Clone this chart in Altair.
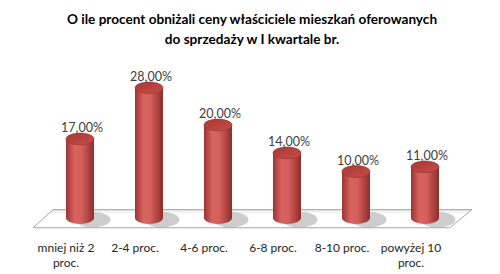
import altair as alt
import pandas as pd

categories = ["mniej niż 2\nproc.", "2-4 proc.", "4-6 proc.", "6-8 proc.", "8-10 proc.", "powyżej 10\nproc."]
values = [17.0, 28.0, 20.0, 14.0, 10.0, 11.0]
value_labels = ["17,00%", "28,00%", "20,00%", "14,00%", "10,00%", "11,00%"]
title_lines = ["O ile procent obniżali ceny właściciele mieszkań oferowanych", "do sprzedaży w I kwartale br."]

df = pd.DataFrame({
    "i": list(range(len(categories))),
    "cat": [c.split("\n") for c in categories],
    "v": values,
    "lab": value_labels,
})

# floor (3D base) corners in data units
floor = pd.DataFrame({
    "x": [-0.68, -0.39, 5.36, 5.68],
    "y": [-2.1, 1.8, 1.8, 1.8],
    "y2": [-2.1, -2.1, -2.1, 1.8],
})
floor_outline = pd.DataFrame({
    "x": [-0.68, -0.39, 5.68, 5.36, -0.68],
    "y": [-2.1, 1.8, 1.8, -2.1, -2.1],
    "o": [0, 1, 2, 3, 4],
})

xs = alt.Scale(domain=[-80 / 69, 420 / 69], nice=False, zero=False)
ys = alt.Scale(domain=[-56 / 4.65, 168 / 4.65], nice=False, zero=False)
X = alt.X("i:Q", scale=xs, axis=None)

FONT = "Lato"

ellipse = "M -1 0 A 1 0.42 0 1 0 1 0 A 1 0.42 0 1 0 -1 0 Z"

bar_grad = alt.Gradient(
    gradient="linear", x1=0, x2=1, y1=0, y2=0,
    stops=[
        alt.GradientStop(offset=0, color="#9c3431"),
        alt.GradientStop(offset=0.3, color="#d9625f"),
        alt.GradientStop(offset=0.55, color="#d4605c"),
        alt.GradientStop(offset=1, color="#8e2d2a"),
    ],
)
cap_grad = alt.Gradient(
    gradient="linear", x1=0, x2=1, y1=0, y2=1,
    stops=[
        alt.GradientStop(offset=0, color="#a83835"),
        alt.GradientStop(offset=1, color="#c64d49"),
    ],
)
floor_grad = alt.Gradient(
    gradient="linear", x1=0, x2=0, y1=0, y2=1,
    stops=[
        alt.GradientStop(offset=0, color="#e4e4e4"),
        alt.GradientStop(offset=0.25, color="#ffffff"),
        alt.GradientStop(offset=1, color="#ffffff"),
    ],
)

base = alt.Chart(df)

floor_area = alt.Chart(floor).mark_area(fill=floor_grad, interpolate="linear").encode(
    x=alt.X("x:Q", scale=xs, axis=None),
    y=alt.Y("y:Q", scale=ys, axis=None),
    y2="y2:Q",
)
floor_line = alt.Chart(floor_outline).mark_line(color="#a6a6a6", strokeWidth=1).encode(
    x=alt.X("x:Q", scale=xs, axis=None),
    y=alt.Y("y:Q", scale=ys, axis=None),
    order="o:Q",
)

shadow = base.transform_calculate(xs_="datum.i + 0.18", ys_="-0.35").mark_point(
    shape=ellipse, size=1300, filled=True, color="#707070", opacity=0.35, strokeWidth=0
).encode(
    x=alt.X("xs_:Q", scale=xs, axis=None),
    y=alt.Y("ys_:Q", scale=ys, axis=None),
)

body = base.transform_calculate(x1="datum.i - 0.203", x2="datum.i + 0.203", z="0").mark_rect(
    fill=bar_grad
).encode(
    x=alt.X("x1:Q", scale=xs, axis=None),
    x2="x2:Q",
    y=alt.Y("z:Q", scale=ys, axis=None),
    y2="v:Q",
)

bottom = base.transform_calculate(z="0").mark_point(
    shape=ellipse, size=784, filled=True, fill=bar_grad, opacity=1, strokeWidth=0
).encode(
    x=X,
    y=alt.Y("z:Q", scale=ys, axis=None),
)

top = base.mark_point(
    shape=ellipse, size=784, filled=True, fill=cap_grad, opacity=1, strokeWidth=0.6, stroke="#9a3431"
).encode(
    x=X,
    y=alt.Y("v:Q", scale=ys, axis=None),
)

vtext = base.mark_text(
    font=FONT, fontSize=12.5, color="#404040", dy=-11, dx=2, baseline="middle"
).encode(
    x=X,
    y=alt.Y("v:Q", scale=ys, axis=None),
    text="lab:N",
)

ctext = base.transform_calculate(z="-6.4").mark_text(
    font=FONT, fontSize=12, color="#262626", dx=-14, baseline="middle", lineHeight=15
).encode(
    x=X,
    y=alt.Y("z:Q", scale=ys, axis=None),
    text="cat",
)

chart = alt.layer(floor_area, floor_line, shadow, body, bottom, top, vtext, ctext).properties(
    width=500,
    height=224,
    padding={"left": 0, "top": 50, "right": 0, "bottom": 0},
    autosize=alt.AutoSizeParams(type="none"),
    title=alt.TitleParams(
        text=title_lines, font=FONT, fontSize=13.6, fontWeight="bold", color="#000000",
        anchor="middle", lineHeight=20, offset=3, frame="group", dx=2,
    ),
    background="white",
).configure_view(stroke=None)

chart.save("out.html", embed_options={"renderer": "svg", "actions": False})
